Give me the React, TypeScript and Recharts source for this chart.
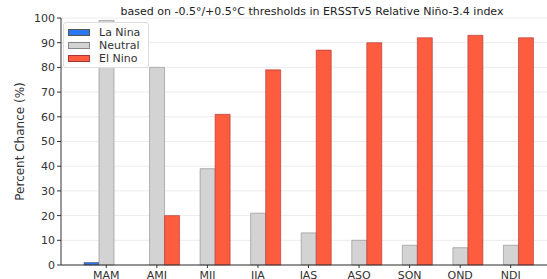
import { BarChart, Bar, XAxis, YAxis, CartesianGrid } from "recharts";

const seasons = ["MAM", "AMJ", "MJJ", "JJA", "JAS", "ASO", "SON", "OND", "NDJ"];
const laNina = [1, 0, 0, 0, 0, 0, 0, 0, 0];
const neutral = [99, 80, 39, 21, 13, 10, 8, 7, 8];
const elNino = [0, 20, 61, 79, 87, 90, 92, 93, 92];
const yTicks = [0, 10, 20, 30, 40, 50, 60, 70, 80, 90, 100];

const series = [
  { key: "laNina", name: "La Nina", fill: "#2a77f0", edge: "#555" },
  { key: "neutral", name: "Neutral", fill: "#d3d3d3", edge: "#888" },
  { key: "elNino", name: "El Nino", fill: "#fe5c3f", edge: "#a33" },
];

const data = seasons.map((s, i) => ({
  season: s,
  laNina: laNina[i],
  neutral: neutral[i],
  elNino: elNino[i],
}));

const font = "'DejaVu Sans', sans-serif";

function LegendBox() {
  return (
    <div
      style={{
        position: "absolute",
        left: 63,
        top: 22,
        background: "rgba(255,255,255,0.92)",
        border: "1px solid #ddd",
        borderRadius: 3,
        padding: "3px 8px 2px 4px",
        fontFamily: font,
        fontSize: 11,
        color: "#333",
      }}
    >
      {series.map((s) => (
        <div key={s.key} style={{ display: "flex", alignItems: "center", height: 13 }}>
          <span
            style={{
              display: "inline-block",
              width: 20,
              height: 5,
              background: s.fill,
              border: `1px solid ${s.edge}`,
              marginRight: 9,
            }}
          />
          {s.name}
        </div>
      ))}
    </div>
  );
}

function YLabel({ viewBox }: any) {
  const cy = viewBox.y + viewBox.height / 2;
  return (
    <text
      x={20}
      y={cy}
      transform={`rotate(-90, 20, ${cy})`}
      textAnchor="middle"
      dominantBaseline="middle"
      fontFamily={font}
      fontSize={12}
      fill="#333"
    >
      Percent Chance (%)
    </text>
  );
}

export default function App() {
  return (
    <div
      style={{
        position: "fixed",
        left: 0,
        top: 0,
        width: 547,
        height: 279,
        overflow: "hidden",
        background: "#fff",
      }}
    >
      <BarChart
        width={556}
        height={290}
        data={data}
        margin={{ top: 18, right: 0, left: 0, bottom: 5 }}
        barGap={0}
        barSize={15}
      >
        <CartesianGrid vertical={false} stroke="#ececec" />
        <XAxis
          dataKey="season"
          padding={{ left: 20, right: 20 }}
          height={20}
          tickSize={3}
          tickMargin={3}
          tick={{ fontFamily: font, fontSize: 11, fill: "#333" }}
          stroke="#333"
        />
        <YAxis
          domain={[0, 100]}
          ticks={yTicks}
          width={61}
          tickSize={4}
          tickMargin={2}
          interval={0}
          tick={{ fontFamily: font, fontSize: 11, fill: "#333" }}
          stroke="#333"
          label={<YLabel />}
        />
        {series.map((s) => (
          <Bar
            key={s.key}
            dataKey={s.key}
            name={s.name}
            fill={s.fill}
            stroke={s.edge}
            strokeWidth={0.6}
            isAnimationActive={false}
          />
        ))}
      </BarChart>
      <div
        style={{
          position: "absolute",
          left: 0,
          width: 624,
          top: 5,
          textAlign: "center",
          fontFamily: font,
          fontSize: 11,
          color: "#222",
          whiteSpace: "nowrap",
        }}
      >
        based on -0.5°/+0.5°C thresholds in ERSSTv5 Relative Niño-3.4 index
      </div>
      <LegendBox />
    </div>
  );
}
